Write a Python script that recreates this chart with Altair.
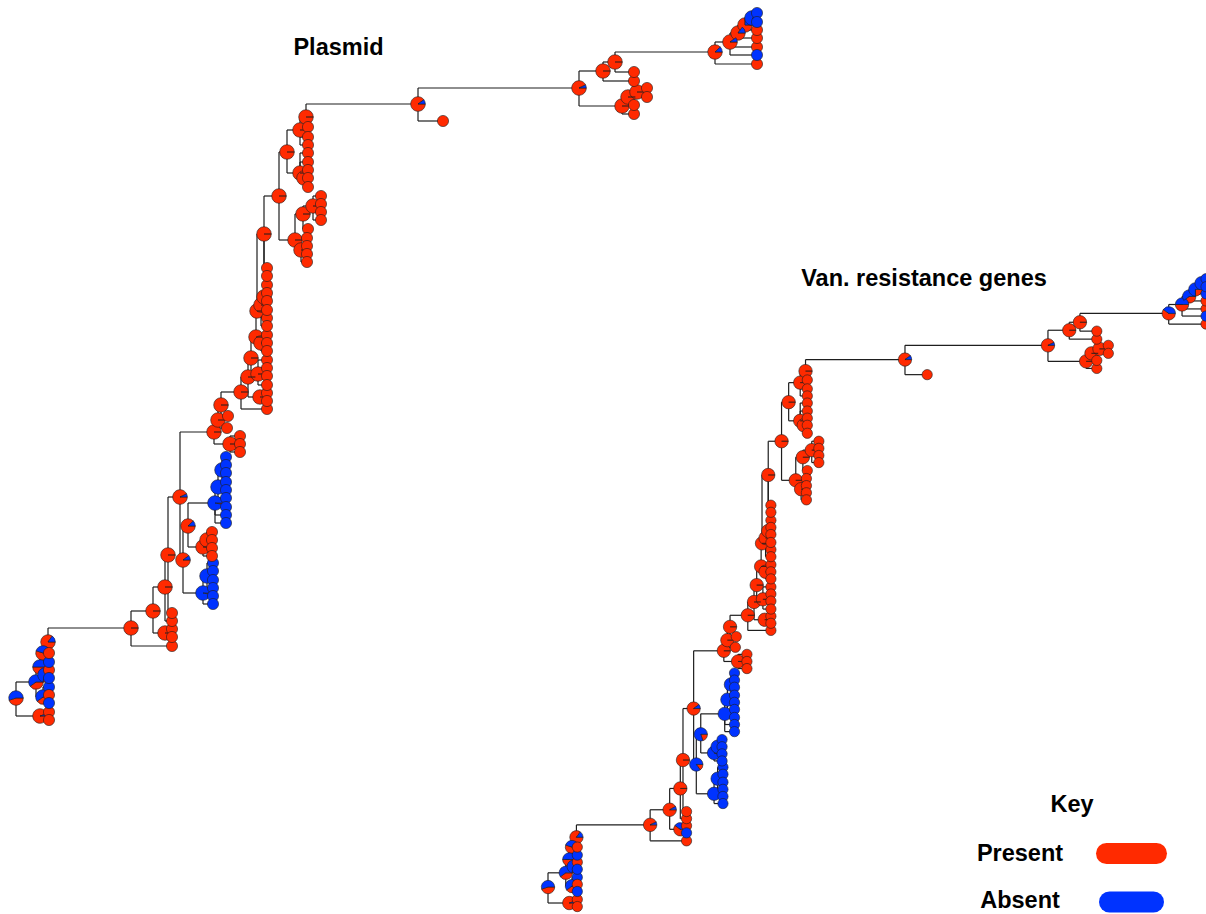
import altair as alt
import pandas as pd

RED = "#ff2a00"
BLUE = "#0033ff"
LINE = "#1e1e1e"

# ---- internal nodes: id, parent, depth (x), row (y), share "present" per trait
node_id = [
    "n0", "n1", "n2", "n3", "n4", "n5", "n6", "n7",
    "E", "P1", "P2", "P3", "P4", "P5", "S", "R", "T",
    "W", "W1", "U", "U1", "U3", "V", "V1",
    "S1", "S2", "S3", "X1", "X2", "X2a", "X3", "X3a", "X4", "X4a",
    "X5", "X5a", "X5b", "Y0", "Y1", "Y2", "B1", "A1", "A2", "A3", "A4",
    "B2", "B3", "B4", "L0", "M0", "M1", "M2", "M3", "M4", "M5",
    "N0", "N1", "N2", "N3", "N4",
]
node_parent = [
    None, "n0", "n0", "n1", "n1", "n3", "n3", "n5",
    "n7", "E", "P1", "P1", "P2", "P4", "P5", "P5", "R",
    "R", "W", "T", "U", "U1", "T", "V",
    "S", "S", "S1", "S3", "X1", "X2", "X2", "X3", "X3", "X4",
    "X4", "X5", "X5a", "X5", "Y0", "Y1", "Y1", "Y2", "Y2", "A1", "A2",
    "B1", "B1", "B2", "A3", "L0", "M0", "M0", "M1", "M2", "M4",
    "M3", "N0", "N1", "N2", "N3",
]
node_depth = [
    16, 36, 40, 40, 43, 43, 45, 48,
    131, 153, 165, 165, 168, 180, 214, 183, 188,
    203, 207, 215, 218, 222, 203, 207,
    218, 230, 221, 241, 248, 260, 251, 258, 256, 261,
    257, 261, 264, 264, 279, 287, 295, 300, 300, 306, 304,
    303, 301, 313, 418, 579, 603, 622, 615, 628, 637,
    715, 730, 738, 745, 752,
]
node_row = [
    698, 682, 716, 667, 697, 653, 675, 642,
    628, 611, 587, 633, 555, 497, 432, 560, 526,
    593, 576, 503, 487, 470, 547, 540,
    420, 444, 405, 392, 377, 397, 358, 374, 337, 343,
    311, 305, 297, 234, 196, 152, 240, 130, 173, 117, 178,
    214, 250, 206, 104, 88, 71, 106, 62, 97, 92,
    52, 42, 33, 25, 18,
]
plasmid_share = [
    0.45, 0.4, 0.95, 0.5, 0.4, 0.55, 0.3, 0.85,
    1, 1, 1, 1, 1, 0.93, 1, 0.9, 0.88,
    0.03, 0, 0.03, 0, 0, 1, 1,
    1, 1, 1, 1, 1, 1, 1, 1, 1, 1,
    1, 1, 1, 1, 1, 1, 1, 1, 1, 1, 1,
    1, 1, 1, 0.9, 0.93, 1, 1, 1, 1, 1,
    0.88, 0.9, 0.85, 0.75, 0.1,
]
van_share = [
    0.45, 0.4, 0.95, 0.5, 0.4, 0.55, 0.3, 0.85,
    0.93, 0.92, 1, 0.6, 1, 0.9, 1, 0.15, 0.2,
    0, 0, 0, 0, 0, 0.05, 0,
    1, 1, 1, 1, 1, 1, 1, 1, 1, 1,
    1, 1, 1, 1, 1, 1, 1, 1, 1, 1, 1,
    1, 1, 1, 0.9, 0.93, 1, 1, 1, 1, 1,
    0.6, 0.5, 0.4, 0.25, 0,
]

# ---- tips: parent, depth, row, state (1 = present, 0 = absent)
tip_parent = (
    ["n2"] * 2 + ["n4"] * 3 + ["n6"] * 2 + ["n5", "n7", "E"] + ["P3"] * 2 + ["P2", "P4"]
    + ["W1"] * 4 + ["W"] * 2 + ["U3"] * 4 + ["U1"] * 2 + ["U"] * 3 + ["V1"] * 3 + ["V"]
    + ["S2"] * 3 + ["S1", "S3", "X1"] + ["X2a"] * 2 + ["X3a"] * 4 + ["X4a"] * 3
    + ["X5a"] * 2 + ["X5b"] * 4 + ["Y0"] * 2 + ["A3"] + ["A1"] * 2 + ["A2"] * 2
    + ["A4"] * 3 + ["B4"] * 4 + ["B2"] + ["B3"] * 4 + ["L0", "M1", "M3", "M2", "M4"]
    + ["M5"] * 2 + ["N0"] + ["N1"] * 2 + ["N2", "N3"] + ["N4"] * 2
)
tip_depth = [
    49, 49, 49, 49, 49, 49, 49, 49, 49, 172, 172, 172, 172, 172,
    213, 213, 213, 213, 213, 213, 226, 226, 226, 226, 226, 226, 226, 226, 226,
    212, 212, 212, 212,
    240, 240, 240, 227, 228, 267, 267, 267, 267, 267, 267, 267, 267, 267, 267,
    267, 267, 267, 267, 267, 267, 267, 267,
    308, 308, 308, 308, 308, 308, 308, 308, 321, 321, 321, 321, 308,
    307, 307, 307, 307, 443, 634, 634, 634, 634,
    647, 647, 757, 757, 757, 757, 757, 757, 757,
]
tip_row = [
    712, 720, 687, 695, 703, 670, 678, 662, 653, 646, 629, 637, 621, 613,
    563, 571, 580, 588, 596, 604, 457, 465, 473, 482, 490, 498, 507, 515, 523,
    532, 540, 548, 556,
    436, 444, 452, 428, 416, 409, 393, 401, 360, 368, 376, 385, 335, 343, 351,
    318, 326, 285, 293, 301, 310, 268, 276,
    127, 137, 145, 153, 162, 170, 178, 187, 196, 204, 212, 220, 229,
    238, 246, 254, 262, 121, 81, 72, 114, 105,
    88, 97, 64, 47, 55, 38, 30, 13, 22,
]
tip_plasmid = [
    1, 1, 0, 1, 0, 1, 0, 0, 1, 1, 1, 1, 1, 1,
    0, 0, 0, 0, 0, 0, 0, 0, 0, 0, 0, 0, 0, 0, 0,
    1, 1, 1, 1,
    1, 1, 1, 1, 1, 1, 1, 1, 1, 1, 1, 1, 1, 1, 1,
    1, 1, 1, 1, 1, 1, 1, 1,
    1, 1, 1, 1, 1, 1, 1, 1, 1, 1, 1, 1, 1,
    1, 1, 1, 1, 1, 1, 1, 1, 1,
    1, 1, 1, 1, 0, 1, 1, 0, 0,
]
tip_van = [
    1, 1, 0, 1, 0, 1, 0, 0, 1, 1, 1, 0, 1, 1,
    0, 0, 0, 0, 0, 0, 0, 0, 0, 0, 0, 0, 0, 0, 0,
    0, 0, 0, 0,
    1, 1, 1, 1, 1, 1, 1, 1, 1, 1, 1, 1, 1, 1, 1,
    1, 1, 1, 1, 1, 1, 1, 1,
    1, 1, 1, 1, 1, 1, 1, 1, 1, 1, 1, 1, 1,
    1, 1, 1, 1, 1, 1, 1, 1, 1,
    1, 1, 1, 1, 0, 1, 0, 0, 0,
]

panel_titles = ["Plasmid", "Van. resistance genes"]
key_labels = ["Present", "Absent"]

# ---- tables ---------------------------------------------------------------
inner = pd.DataFrame({
    "id": node_id, "parent": node_parent, "depth": node_depth, "row": node_row,
    "plasmid": plasmid_share, "van": van_share,
})
tips = pd.DataFrame({
    "parent": tip_parent, "depth": tip_depth, "row": tip_row,
    "plasmid": tip_plasmid, "van": tip_van,
})

where = inner.set_index("id")
linked = pd.concat(
    [inner[["parent", "depth", "row"]], tips[["parent", "depth", "row"]]],
    ignore_index=True,
).dropna(subset=["parent"])
px = linked["parent"].map(where["depth"])
py = linked["parent"].map(where["row"])
edges = pd.concat([
    pd.DataFrame({"x": px, "x2": linked["depth"], "y": linked["row"], "y2": linked["row"]}),
    pd.DataFrame({"x": px, "x2": px, "y": py, "y2": linked["row"]}),
], ignore_index=True)


def pie_rows(col):
    base = inner[["id", "depth", "row"]]
    present = base.assign(state="Present", share=inner[col], order=0)
    absent = base.assign(state="Absent", share=1 - inner[col], order=1)
    return pd.concat([present, absent], ignore_index=True)


def tip_rows(col):
    return tips.assign(state=tips[col].map({1: "Present", 0: "Absent"}))


colors = alt.Scale(domain=key_labels, range=[RED, BLUE])


def tree(col, x_range, y_range, r_node, r_tip):
    xs = alt.Scale(domain=[0, 1206], range=x_range, nice=False, zero=False)
    ys = alt.Scale(domain=[0, 914], range=y_range, nice=False, zero=False)

    branches = alt.Chart(edges).mark_rule(color=LINE, strokeWidth=1.2).encode(
        x=alt.X("x:Q", scale=xs, axis=None),
        x2="x2:Q",
        y=alt.Y("y:Q", scale=ys, axis=None),
        y2="y2:Q",
    )
    pies = (
        alt.Chart(pie_rows(col))
        .transform_stack(
            stack="share", groupby=["id"], as_=["s0", "s1"],
            sort=[alt.SortField("order", "ascending")],
        )
        .transform_calculate(
            a0="PI / 2 + 2 * PI * datum.s0",
            a1="PI / 2 + 2 * PI * datum.s1",
        )
        .mark_arc(outerRadius=r_node, stroke=LINE, strokeWidth=0.6)
        .encode(
            x=alt.X("depth:Q", scale=xs, axis=None),
            y=alt.Y("row:Q", scale=ys, axis=None),
            theta=alt.Theta("a0:Q", scale=None, stack=False),
            theta2="a1:Q",
            color=alt.Color("state:N", scale=colors, legend=None),
        )
    )
    leaves = alt.Chart(tip_rows(col)).mark_circle(
        size=3.1416 * r_tip * r_tip, stroke=LINE, strokeWidth=0.6, opacity=1
    ).encode(
        x=alt.X("depth:Q", scale=xs, axis=None),
        y=alt.Y("row:Q", scale=ys, axis=None),
        color=alt.Color("state:N", scale=colors, legend=None),
    )
    return alt.layer(branches, pies, leaves)


k = 0.888
plasmid_tree = tree("plasmid", [0, 1206], [0, 914], 7.3, 6.3)
van_tree = tree("van", [533.8, 533.8 + 1206 * k], [267.2, 267.2 + 914 * k], 6.7, 5.8)


def label(text, x, y, size=23.5):
    return alt.Chart(pd.DataFrame({"label": [text]})).mark_text(
        font="Liberation Sans", fontWeight="bold", fontSize=size,
        align="center", baseline="middle", color="black",
    ).encode(x=alt.value(x), y=alt.value(y), text="label:N")


def key_bar(state, x0, x1, y):
    return alt.Chart(pd.DataFrame({"state": [state]})).mark_rule(
        strokeWidth=21, strokeCap="round"
    ).encode(
        x=alt.value(x0), x2=alt.value(x1), y=alt.value(y),
        color=alt.Color("state:N", scale=colors, legend=None),
    )


chart = alt.layer(
    plasmid_tree,
    van_tree,
    label(panel_titles[0], 338.5, 48),
    label(panel_titles[1], 924, 279),
    label("Key", 1072, 805),
    label(key_labels[0], 1020, 854),
    label(key_labels[1], 1020, 901),
    key_bar(key_labels[0], 1106.5, 1156.5, 853.5),
    key_bar(key_labels[1], 1109.5, 1153.5, 902),
).resolve_scale(
    x="independent", y="independent"
).properties(
    width=1206, height=914, autosize="none", padding=0
).configure_view(stroke=None)

chart.save("out.html", embed_options={"renderer": "svg", "actions": False})
